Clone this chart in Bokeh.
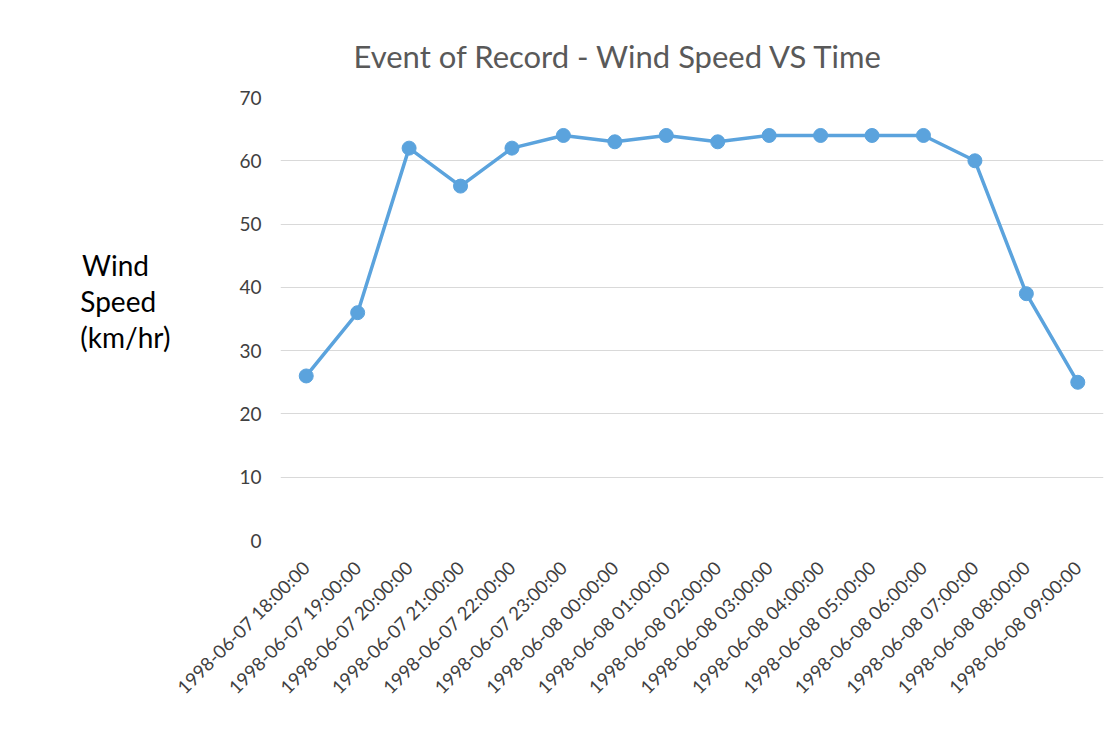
import math
from bokeh.plotting import figure
from bokeh.models import Range1d, ColumnDataSource
from bokeh.embed import file_html
from bokeh.resources import INLINE

times = ["1998-06-07 18:00:00", "1998-06-07 19:00:00", "1998-06-07 20:00:00",
         "1998-06-07 21:00:00", "1998-06-07 22:00:00", "1998-06-07 23:00:00",
         "1998-06-08 00:00:00", "1998-06-08 01:00:00", "1998-06-08 02:00:00",
         "1998-06-08 03:00:00", "1998-06-08 04:00:00", "1998-06-08 05:00:00",
         "1998-06-08 06:00:00", "1998-06-08 07:00:00", "1998-06-08 08:00:00",
         "1998-06-08 09:00:00"]
wind_speed = [26, 36, 62, 56, 62, 64, 63, 64, 63, 64, 64, 64, 64, 60, 39, 25]
y_ticks = [0, 10, 20, 30, 40, 50, 60, 70]

FONT = "Lato"
NB = "\u00a0"
src = ColumnDataSource(dict(t=times, v=wind_speed))

p = figure(width=1111, height=721, x_range=times, y_range=Range1d(0, 70),
           output_backend="svg", toolbar_location=None,
           min_border_left=280, min_border_right=8, min_border_top=97,
           min_border_bottom=181,
           title="Event of Record - Wind Speed VS Time")
p.x_range.range_padding = 0
p.outline_line_color = None
p.background_fill_color = "white"
p.border_fill_color = "white"

p.title.align = "left"
p.title.offset = 73
p.title.text_font = FONT
p.title.text_font_size = "31px"
p.title.text_font_style = "normal"
p.title.text_color = "#595959"
p.title.standoff = 46

p.line("t", "v", source=src, line_color="#5BA3DD", line_width=3.5)
p.scatter("t", "v", source=src, size=14, fill_color="#5BA3DD", line_color="#5BA3DD")

p.xgrid.grid_line_color = None
p.ygrid.grid_line_color = "#d9d9d9"
p.ygrid.grid_line_width = 1

p.yaxis.ticker = y_ticks
p.yaxis.axis_line_color = None
p.yaxis.major_tick_line_color = None
p.yaxis.minor_tick_line_color = None
p.yaxis.major_label_text_font = FONT
p.yaxis.major_label_text_font_size = "19px"
p.yaxis.major_label_text_color = "#404040"
p.yaxis.major_label_standoff = 13
p.yaxis.axis_label = "Wind" + NB * 3 + "\nSpeed" + NB * 2 + "\n(km/hr)\n" + NB
p.yaxis.axis_label_orientation = "horizontal"
p.yaxis.axis_label_text_font = FONT
p.yaxis.axis_label_text_font_size = "28px"
p.yaxis.axis_label_text_font_style = "normal"
p.yaxis.axis_label_text_color = "#000000"
p.yaxis.axis_label_text_line_height = 1.05
p.yaxis.axis_label_standoff = 66

p.xaxis.axis_line_color = None
p.xaxis.major_tick_line_color = None
p.xaxis.minor_tick_line_color = None
p.xaxis.major_label_orientation = math.pi / 4
p.xaxis.major_label_text_font = FONT
p.xaxis.major_label_text_font_size = "18.5px"
p.xaxis.major_label_text_color = "#404040"
p.xaxis.major_label_standoff = 18

open("out.html", "w").write(file_html(p, INLINE))
